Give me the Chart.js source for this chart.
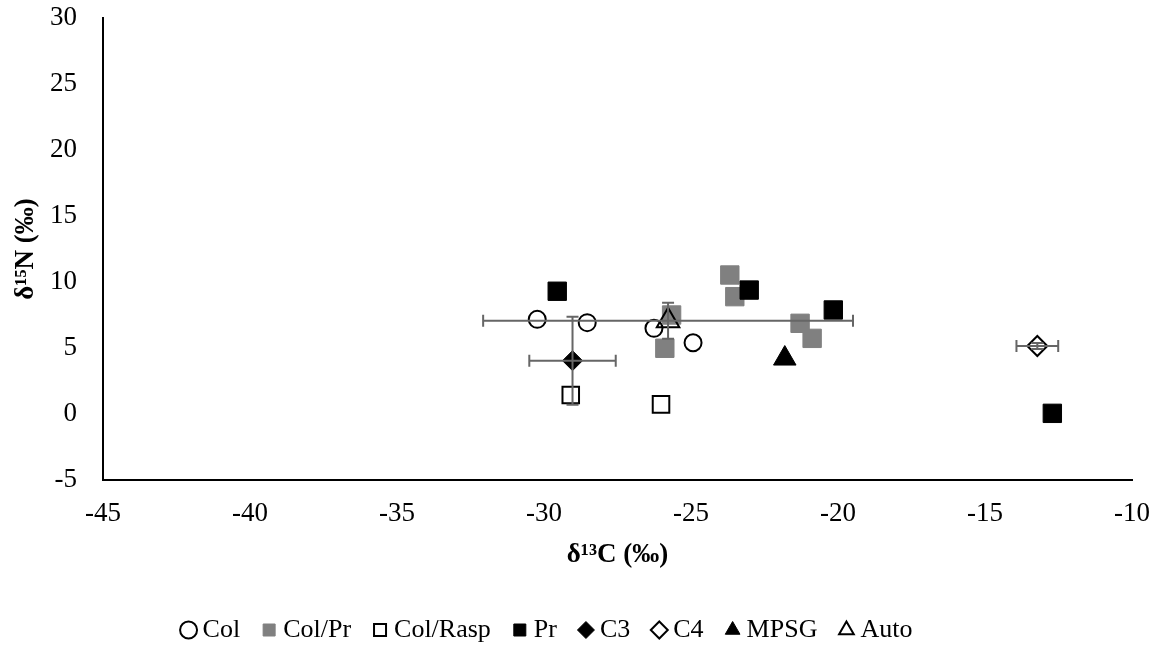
<!DOCTYPE html>
<html>
<head>
<meta charset="utf-8">
<script src="https://cdn.jsdelivr.net/npm/chart.js@4.4.1/dist/chart.umd.min.js"></script>
<style>
  html, body { margin: 0; padding: 0; background: #fff; }
  #wrap { width: 1157px; height: 647px; }
</style>
</head>
<body>
<div id="wrap"><canvas id="chart" width="1157" height="647"></canvas></div>
<script>
// ***** values *****
const colX = [-30.23, -28.53, -26.26, -24.93];
const colY = [7.17, 6.92, 6.49, 5.4];

const colPrX = [-23.68, -23.51, -25.66, -25.89, -21.29, -20.88];
const colPrY = [10.53, 8.89, 7.5, 4.98, 6.87, 5.73];

const colRaspX = [-29.09, -26.02];
const colRaspY = [1.44, 0.73];

const prX = [-29.55, -23.02, -20.16, -12.71];
const prY = [9.3, 9.39, 7.88, 0.05];

const c3X = [-29.03];
const c3Y = [4.04];
const c3ErrX = [1.47];
const c3ErrY = [3.33];

const c4X = [-13.22];
const c4Y = [5.15];
const c4ErrX = [0.71];
const c4ErrY = [0.23];

const mpsgX = [-21.81];
const mpsgY = [4.2];

const autoX = [-25.78];
const autoY = [7.07];
const autoErrX = [6.29];
const autoErrY = [1.36];

const xTicks = [-45, -40, -35, -30, -25, -20, -15, -10];
const yTicks = [-5, 0, 5, 10, 15, 20, 25, 30];

const toPoints = (xs, ys) => xs.map((x, i) => ({ x, y: ys[i] }));

Chart.defaults.font.family = "'Liberation Serif', 'Times New Roman', serif";
Chart.defaults.color = "#000";

// excel draws later series on top -> lower order wins in chart.js
const datasets = [
  {
    label: "Col",
    data: toPoints(colX, colY),
    pointStyle: "circle",
    pointRadius: 8.5,
    borderWidth: 2,
    borderColor: "#000",
    backgroundColor: "#fff",
  },
  {
    label: "Col/Pr",
    data: toPoints(colPrX, colPrY),
    pointStyle: "rect",
    pointRadius: 13,
    borderWidth: 1,
    borderColor: "#808080",
    backgroundColor: "#808080",
  },
  {
    label: "Col/Rasp",
    data: toPoints(colRaspX, colRaspY),
    pointStyle: "rect",
    pointRadius: 11.7,
    borderWidth: 2,
    borderColor: "#000",
    backgroundColor: "#fff",
  },
  {
    label: "Pr",
    data: toPoints(prX, prY),
    pointStyle: "rect",
    pointRadius: 13,
    borderWidth: 1,
    borderColor: "#000",
    backgroundColor: "#000",
  },
  {
    label: "C3",
    data: toPoints(c3X, c3Y),
    errX: c3ErrX,
    errY: c3ErrY,
    pointStyle: "rectRot",
    pointRadius: 10,
    borderWidth: 1,
    borderColor: "#000",
    backgroundColor: "#000",
  },
  {
    label: "C4",
    data: toPoints(c4X, c4Y),
    errX: c4ErrX,
    errY: c4ErrY,
    pointStyle: "rectRot",
    pointRadius: 10,
    borderWidth: 2,
    borderColor: "#000",
    backgroundColor: "rgba(255,255,255,0)",
  },
  {
    label: "MPSG",
    data: toPoints(mpsgX, mpsgY),
    pointStyle: "triangle",
    pointRadius: 13,
    borderWidth: 1,
    borderColor: "#000",
    backgroundColor: "#000",
  },
  {
    label: "Auto",
    data: toPoints(autoX, autoY),
    errX: autoErrX,
    errY: autoErrY,
    pointStyle: "triangle",
    pointRadius: 13,
    borderWidth: 2,
    borderColor: "#000",
    backgroundColor: "rgba(255,255,255,0)",
  },
].map((ds, i, all) => ({ ...ds, order: all.length - i, pointHoverRadius: ds.pointRadius }));

// error bars (x and y, with caps) through the chart scales
const errorBars = {
  id: "errorBars",
  afterDatasetsDraw(chart) {
    const { ctx, scales } = chart;
    const sx = scales.x;
    const sy = scales.y;
    const cap = 6;
    ctx.save();
    ctx.strokeStyle = "#666";
    ctx.lineWidth = 2;
    chart.data.datasets.forEach((ds) => {
      if (!ds.errX) return;
      ds.data.forEach((p, j) => {
        const cx = sx.getPixelForValue(p.x);
        const cy = sy.getPixelForValue(p.y);
        const x0 = sx.getPixelForValue(p.x - ds.errX[j]);
        const x1 = sx.getPixelForValue(p.x + ds.errX[j]);
        const y0 = sy.getPixelForValue(p.y - ds.errY[j]);
        const y1 = sy.getPixelForValue(p.y + ds.errY[j]);
        ctx.beginPath();
        ctx.moveTo(x0, cy); ctx.lineTo(x1, cy);
        ctx.moveTo(x0, cy - cap); ctx.lineTo(x0, cy + cap);
        ctx.moveTo(x1, cy - cap); ctx.lineTo(x1, cy + cap);
        ctx.moveTo(cx, y0); ctx.lineTo(cx, y1);
        ctx.moveTo(cx - cap, y0); ctx.lineTo(cx + cap, y0);
        ctx.moveTo(cx - cap, y1); ctx.lineTo(cx + cap, y1);
        ctx.stroke();
      });
    });
    ctx.restore();
  },
};

// excel legend sits a bit left of the page centre
const legendShift = {
  id: "legendShift",
  afterLayout(chart) {
    chart.legend.left -= 16;
    chart.legend.right -= 16;
  },
};

const config = {
  type: "scatter",
  data: { datasets },
  options: {
    responsive: false,
    animation: false,
    events: [],
    layout: { padding: { top: 18, right: 25, bottom: -6, left: 0 } },
    scales: {
      x: {
        type: "linear",
        min: xTicks[0],
        max: xTicks[xTicks.length - 1],
        afterBuildTicks: (s) => { s.ticks = xTicks.map((v) => ({ value: v })); },
        ticks: { padding: 18, color: "#000", font: { size: 27 }, maxRotation: 0 },
        grid: { display: false, drawTicks: false },
        border: { display: true, color: "#000", width: 2 },
        title: {
          display: true,
          text: "δ¹³C (‰)",
          color: "#000",
          font: { size: 27, weight: "bold" },
          padding: 18,
        },
        afterFit: (s) => {
          s.height = 109;
          s.paddingLeft = 0;
          s.paddingRight = 0;
        },
      },
      y: {
        type: "linear",
        min: yTicks[0],
        max: yTicks[yTicks.length - 1],
        afterBuildTicks: (s) => { s.ticks = yTicks.map((v) => ({ value: v })); },
        ticks: { padding: 26, color: "#000", font: { size: 27 } },
        grid: { display: false, drawTicks: false },
        border: { display: true, color: "#000", width: 2 },
        title: {
          display: true,
          text: "δ¹⁵N (‰)",
          color: "#000",
          font: { size: 27, weight: "bold" },
          padding: 10,
        },
        afterFit: (s) => {
          s.width = 103;
          s.paddingTop = 0;
          s.paddingBottom = 0;
        },
      },
    },
    plugins: {
      legend: {
        display: true,
        position: "bottom",
        align: "center",
        reverse: true,
        labels: {
          usePointStyle: true,
          boxWidth: 2,
          boxHeight: 12,
          padding: 28,
          color: "#000",
          font: { size: 26 },
        },
      },
      tooltip: { enabled: false },
    },
  },
  plugins: [errorBars, legendShift],
};

const isotopeChart = new Chart(document.getElementById("chart"), config);
</script>
</body>
</html>
